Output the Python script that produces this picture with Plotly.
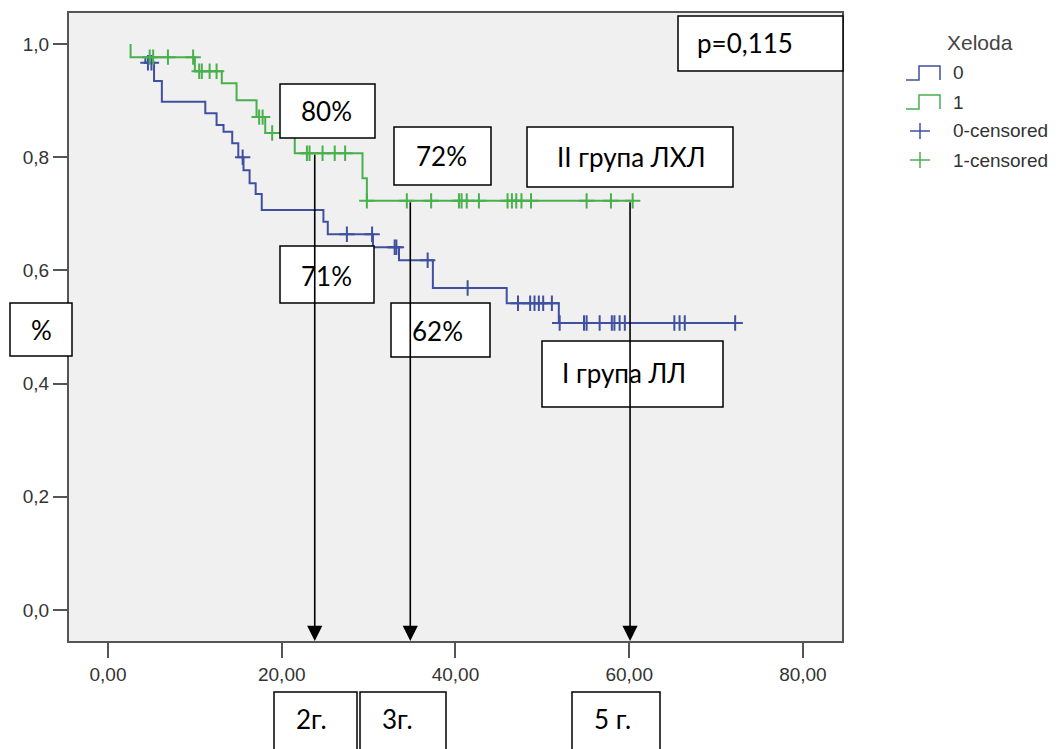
import numpy as np
import plotly.graph_objects as go

# ---------------- data ----------------
# Kaplan-Meier steps: time (months) and survival after the step
blue_t = [4.3, 4.3, 5.3, 6.2, 11.2, 12.5, 13.3, 14.3, 15.0, 15.6, 16.3, 17.0, 17.7,
          24.8, 25.3, 30.5, 33.5, 37.4, 45.9, 51.9, 72.2]
blue_s = [0.975, 0.967, 0.935, 0.898, 0.878, 0.857, 0.845, 0.825, 0.80, 0.777, 0.754, 0.735, 0.707,
          0.686, 0.664, 0.641, 0.618, 0.569, 0.542, 0.507, 0.507]
blue_cens = [4.6, 5.0, 15.5, 27.5, 30.4, 33.0, 33.2, 36.8, 41.4, 47.2, 48.6, 49.1, 49.6, 50.1,
             51.1, 52.0, 54.8, 55.1, 56.6, 58.0, 58.3, 58.9, 59.5, 65.2, 65.8, 66.4, 72.2]

green_t = [2.6, 2.6, 10.0, 13.1, 14.8, 17.1, 18.1, 21.5, 29.3, 29.8, 60.4]
green_s = [1.0, 0.977, 0.952, 0.931, 0.901, 0.871, 0.843, 0.807, 0.763, 0.723, 0.723]
green_cens = [4.8, 5.2, 6.9, 9.8, 10.5, 10.8, 11.7, 12.5, 17.4, 17.8, 18.9, 22.9, 23.2, 24.7,
              26.1, 27.3, 29.8, 34.4, 37.2, 40.4, 40.7, 41.3, 42.7, 46.0, 46.5, 47.0, 47.6,
              48.7, 55.1, 57.9, 60.4]

# reading arrows (time, survival level where the arrow starts)
arrow_t = [23.8, 34.8, 60.1]
arrow_s = [0.807, 0.723, 0.723]

x_ticks = [0, 20, 40, 60, 80]
x_tick_text = ["0,00", "20,00", "40,00", "60,00", "80,00"]
y_ticks = [0.0, 0.2, 0.4, 0.6, 0.8, 1.0]
y_tick_text = ["0,0", "0,2", "0,4", "0,6", "0,8", "1,0"]

legend_title = "Xeloda"
legend_labels = ["0", "1", "0-censored", "1-censored"]

BLUE = "#3f50a0"
GREEN = "#48b04c"


def level_at(times, surv, c):
    t = np.array(times)
    idx = np.searchsorted(t, c, side="right") - 1
    return surv[max(idx, 0)]


fig = go.Figure()
for t, s, cens, col, name in [(blue_t, blue_s, blue_cens, BLUE, "0"),
                              (green_t, green_s, green_cens, GREEN, "1")]:
    fig.add_trace(go.Scatter(x=t, y=s, mode="lines", line=dict(color=col, width=2, shape="hv"),
                             showlegend=False, name=name))
    fig.add_trace(go.Scatter(x=cens, y=[level_at(t, s, c) for c in cens], mode="markers",
                             marker=dict(symbol="cross-thin", size=11,
                                         line=dict(color=col, width=2)),
                             showlegend=False, name=name + "-censored"))

# plot area in pixels
L, R, T, B = 69, 842, 13, 641
W, H = 1062, 749


def px(x):
    return (x - L) / (R - L)


def py(y):
    return (B - y) / (B - T)


shapes = []
annotations = []

boxes = [
    ("%", 10, 72, 303, 356, 41, 330),
    ("p=0,115", 678, 843, 16, 71, 745, 43),
    ("80%", 280, 375, 84, 138, 326, 111),
    ("72%", 394, 491, 127, 185, 441, 156),
    ("II група ЛХЛ", 527, 733, 127, 187, 631, 157),
    ("71%", 280, 374, 246, 303, 326, 276),
    ("62%", 391, 490, 303, 357, 437, 331),
    ("I група ЛЛ", 542, 723, 341, 407, 624, 373),
    ("2г.", 274, 357, 692, 770, 311, 719),
    ("3г.", 360, 446, 692, 770, 397, 719),
    ("5 г.", 572, 660, 692, 770, 612, 719),
]
for text, x0, x1, y0, y1, tx, ty in boxes:
    shapes.append(dict(type="rect", xref="paper", yref="paper", x0=px(x0), x1=px(x1),
                       y0=py(y1), y1=py(y0), fillcolor="white",
                       line=dict(color="black", width=1.5), layer="above"))
    annotations.append(dict(text=text, xref="paper", yref="paper", x=px(tx), y=py(ty),
                            showarrow=False, xanchor="center", yanchor="middle",
                            font=dict(family="Lato", size=26, color="black")))

# arrows
for t, s in zip(arrow_t, arrow_s):
    annotations.append(dict(x=t, y=-0.055, ax=t, ay=s, xref="x", yref="y", axref="x", ayref="y",
                            showarrow=True, arrowhead=2, arrowsize=1.9, arrowwidth=1.6,
                            arrowcolor="black", text=""))

# legend (manual)
annotations.append(dict(text=legend_title, xref="paper", yref="paper", x=px(945), y=py(42),
                        showarrow=False, xanchor="left", yanchor="middle",
                        font=dict(family="Liberation Sans", size=21, color="#444")))
rows = [73, 102, 131, 160]
cols = [BLUE, GREEN, BLUE, GREEN]
for i, (lab, yy, col) in enumerate(zip(legend_labels, rows, cols)):
    annotations.append(dict(text=lab, xref="paper", yref="paper", x=px(951), y=py(yy),
                            showarrow=False, xanchor="left", yanchor="middle",
                            font=dict(family="Liberation Sans", size=19, color="#333")))
    if i < 2:
        x0, xm, x1 = 906, 919, 940
        path = (f"M {px(x0)},{py(yy+7)} L {px(xm)},{py(yy+7)} L {px(xm)},{py(yy-7)} "
                f"L {px(x1)},{py(yy-7)} L {px(x1)},{py(yy+7)}")
        shapes.append(dict(type="path", xref="paper", yref="paper", path=path,
                           line=dict(color=col, width=1.5)))
    else:
        shapes.append(dict(type="line", xref="paper", yref="paper", x0=px(910), x1=px(930),
                           y0=py(yy), y1=py(yy), line=dict(color=col, width=1.5)))
        shapes.append(dict(type="line", xref="paper", yref="paper", x0=px(920), x1=px(920),
                           y0=py(yy - 8), y1=py(yy + 8), line=dict(color=col, width=1.5)))

fig.update_layout(
    width=W, height=H,
    margin=dict(l=L, r=W - R, t=T, b=H - B),
    paper_bgcolor="white", plot_bgcolor="#f0f0f0",
    shapes=shapes, annotations=annotations,
    showlegend=False,
    font=dict(family="Liberation Sans", size=19, color="#333"),
)
fig.update_xaxes(range=[-4.49, 84.5], tickvals=x_ticks, ticktext=x_tick_text,
                 showgrid=False, zeroline=False, showline=True, mirror=True,
                 linecolor="#555", linewidth=2, ticks="outside", ticklen=15, tickwidth=2,
                 tickcolor="#555", tickfont=dict(size=19, color="#333"))
fig.update_yaxes(range=[-0.055, 1.055], tickvals=y_ticks, ticktext=y_tick_text,
                 showgrid=False, zeroline=False, showline=True, mirror=True,
                 linecolor="#555", linewidth=2, ticks="outside", ticklen=14, tickwidth=2,
                 tickcolor="#555", tickfont=dict(size=19, color="#333"))

fig.write_html("out.html")
